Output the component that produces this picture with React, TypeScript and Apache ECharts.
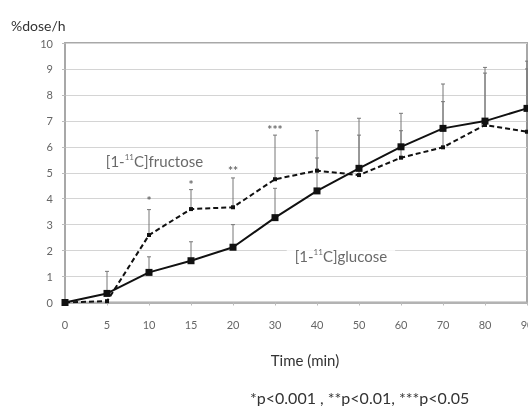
import React, { useEffect, useRef } from "react";
import * as echarts from "echarts";

const times = ["0", "5", "10", "15", "20", "30", "40", "50", "60", "70", "80", "90"];
const glucose = [0, 0.35, 1.16, 1.61, 2.13, 3.27, 4.3, 5.17, 6.0, 6.71, 6.99, 7.48];
const fructose = [0, 0.05, 2.6, 3.6, 3.67, 4.75, 5.08, 4.91, 5.58, 5.98, 6.84, 6.58];
const glucoseUpper = [0, 1.2, 1.76, 2.34, 3.0, 4.4, 5.57, 7.1, 7.29, 8.42, 9.06, 9.3];
const fructoseUpper = [0, 0.05, 3.58, 4.35, 4.8, 6.45, 6.62, 6.45, 6.62, 7.74, 8.84, 9.0];
const starIdx = [2, 3, 4, 5];
const starY = [3.92, 4.55, 5.08, 6.68];
const starText = ["*", "*", "**", "***"];
const labelPos = [
  [2.13, 5.45],
  [6.57, 1.79],
];
const labelNames = ["fructose", "glucose"];

export default function App() {
  const ref = useRef<HTMLDivElement>(null);
  useEffect(() => {
    document.body.style.margin = "0";
    const chart = echarts.init(ref.current!, null, { renderer: "svg" });
    const errData = (vals: number[], ups: number[]) =>
      vals.map((v, i) => [i, v, ups[i]]).filter((d) => d[2] > d[1] + 0.01);
    const errSeries = (vals: number[], ups: number[]) => ({
      type: "custom",
      data: errData(vals, ups),
      z: 1,
      silent: true,
      renderItem: (params: any, api: any) => {
        const i = api.value(0);
        const lo = api.coord([i, api.value(1)]);
        const hi = api.coord([i, api.value(2)]);
        return {
          type: "group",
          children: [
            { type: "line", shape: { x1: lo[0], y1: lo[1], x2: hi[0], y2: hi[1] }, style: { stroke: "#777", lineWidth: 1 } },
            { type: "line", shape: { x1: hi[0] - 2, y1: hi[1], x2: hi[0] + 2, y2: hi[1] }, style: { stroke: "#777", lineWidth: 1 } },
          ],
        };
      },
    });
    const font = "Lato, 'Open Sans', sans-serif";
    chart.setOption({
      animation: false,
      textStyle: { fontFamily: font },
      title: [
        { text: "%dose/h", left: 6, top: 13, textStyle: { fontSize: 14, fontWeight: "normal", color: "#333", fontFamily: font } },
        { text: "*p<0.001 , **p<0.01, ***p<0.05", left: 245, top: 384, textStyle: { fontSize: 16, fontWeight: "normal", color: "#333", fontFamily: font } },
      ],
      grid: {
        left: 65,
        top: 43,
        width: 462,
        height: 259.5,
        outerBoundsMode: "none",
        containLabel: false,
        show: true,
        borderColor: "#a8a8a8",
        borderWidth: 2,
      },
      xAxis: [
        {
          type: "category",
          data: times,
          boundaryGap: false,
          name: "Time (min)",
          nameLocation: "middle",
          nameGap: 50,
          nameTextStyle: { fontSize: 15, color: "#333", padding: [0, 0, 0, 18] },
          axisLine: { show: true, lineStyle: { color: "#a8a8a8", width: 1.5 } },
          axisTick: { show: true, length: 3, lineStyle: { color: "#bbb" } },
          axisLabel: { fontSize: 11, color: "#666", margin: 16, interval: 0 },
          splitLine: { show: false },
        },
        {
          type: "value",
          min: 0,
          max: 11,
          show: false,
        },
      ],
      yAxis: {
        type: "value",
        min: 0,
        max: 10,
        interval: 1,
        axisLine: { show: true, lineStyle: { color: "#a8a8a8", width: 1.5 } },
        axisTick: { show: true, length: 3, lineStyle: { color: "#bbb" } },
        axisLabel: { fontSize: 11, color: "#666", margin: 12 },
        splitLine: { show: true, lineStyle: { color: "#d4d4d4", width: 1.2 } },
      },
      series: [
        errSeries(glucose, glucoseUpper),
        errSeries(fructose, fructoseUpper),
        {
          type: "line",
          data: fructose,
          z: 3,
          symbol: "rect",
          symbolSize: 4,
          itemStyle: { color: "#111" },
          lineStyle: { color: "#111", width: 2, type: [5, 3] },
        },
        {
          type: "line",
          data: glucose,
          z: 4,
          symbol: "rect",
          symbolSize: 7,
          itemStyle: { color: "#111" },
          lineStyle: { color: "#111", width: 2 },
        },
        {
          type: "scatter",
          xAxisIndex: 1,
          z: 5,
          symbolSize: 0,
          data: labelPos.map((p, k) => [p[0], p[1], labelNames[k]]),
          label: {
            show: true,
            position: "inside",
            formatter: (p: any) => "[1-{s|11}C]" + p.data[2],
            fontSize: 15,
            color: "#444",
            backgroundColor: "#fff",
            padding: [2, 8],
            rich: { s: { fontSize: 8, verticalAlign: "top", color: "#444", padding: [0, 0, 8, 0] } },
          },
        },
        {
          type: "scatter",
          z: 7,
          symbolSize: 0,
          data: starIdx.map((idx, k) => [idx, starY[k], starText[k]]),
          label: {
            show: true,
            position: "inside",
            formatter: (p: any) => p.data[2],
            fontSize: 12,
            fontWeight: "bold",
            color: "#444",
          },
        },
      ],
    });
    return () => chart.dispose();
  }, []);
  return <div ref={ref} style={{ width: 528, height: 406, position: "fixed", left: 0, top: 0 }} />;
}
